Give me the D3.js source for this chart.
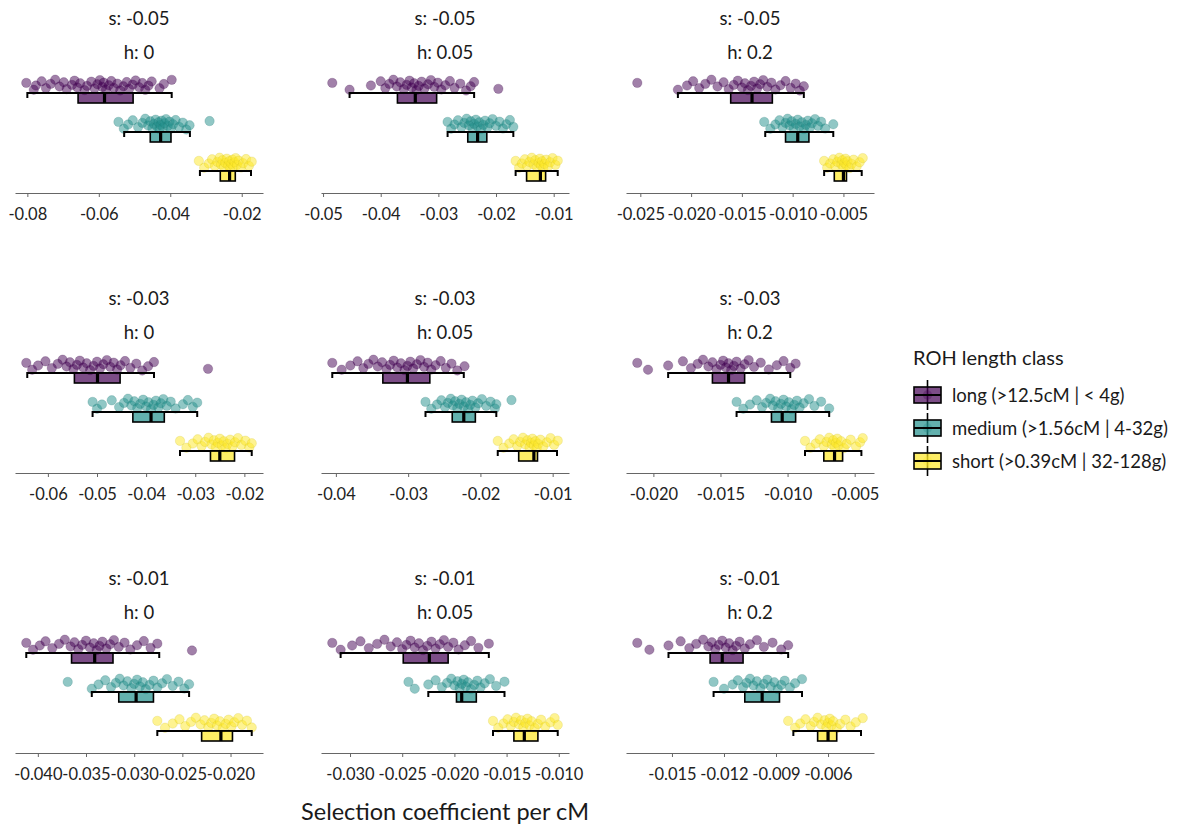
<!DOCTYPE html>
<html>
<head>
<meta charset="utf-8">
<script src="https://cdn.jsdelivr.net/npm/d3@7"></script>
<style>
  body { margin: 0; background: #fff; }
  svg { font-family: Lato, "Open Sans", sans-serif; }
</style>
</head>
<body>
<svg></svg>
<script>
const classes = ["long", "medium", "short"]
const classLabels = ["long (>12.5cM | < 4g)", "medium (>1.56cM | 4-32g)", "short (>0.39cM | 32-128g)"]
const classColors = ["#440154", "#21908C", "#FDE725"]
const sLabels = ["s: -0.05", "s: -0.03", "s: -0.01"]
const hLabels = ["h: 0", "h: 0.05", "h: 0.2"]

// tick labels, one list per panel (row by row)
const panelTicks = [
  ["-0.08", "-0.06", "-0.04", "-0.02"],
  ["-0.05", "-0.04", "-0.03", "-0.02", "-0.01"],
  ["-0.025", "-0.020", "-0.015", "-0.010", "-0.005"],
  ["-0.06", "-0.05", "-0.04", "-0.03", "-0.02"],
  ["-0.04", "-0.03", "-0.02", "-0.01"],
  ["-0.020", "-0.015", "-0.010", "-0.005"],
  ["-0.040", "-0.035", "-0.030", "-0.025", "-0.020"],
  ["-0.030", "-0.025", "-0.020", "-0.015", "-0.010"],
  ["-0.015", "-0.012", "-0.009", "-0.006"]
]

// selection coefficient per replicate, one list per panel
const longPoints = [
  [-0.0803, -0.0782, -0.0776, -0.0760, -0.0748, -0.0735, -0.0722, -0.0710, -0.0698, -0.0690, -0.0675, -0.0668, -0.0660, -0.0652, -0.0640, -0.0633, -0.0621, -0.0612, -0.0604, -0.0597, -0.0590, -0.0586, -0.0580, -0.0572, -0.0565, -0.0558, -0.0548, -0.0540, -0.0531, -0.0522, -0.0515, -0.0505, -0.0497, -0.0487, -0.0478, -0.0470, -0.0461, -0.0452, -0.0430, -0.0418, -0.0396],
  [-0.0484, -0.0454, -0.0417, -0.0400, -0.0392, -0.0385, -0.0378, -0.0372, -0.0366, -0.0360, -0.0355, -0.0350, -0.0346, -0.0342, -0.0338, -0.0334, -0.0329, -0.0324, -0.0318, -0.0313, -0.0307, -0.0301, -0.0295, -0.0288, -0.0280, -0.0272, -0.0262, -0.0252, -0.0244, -0.0238, -0.0196],
  [-0.0253, -0.0213, -0.0204, -0.0198, -0.0192, -0.0186, -0.0180, -0.0174, -0.0168, -0.0163, -0.0158, -0.0154, -0.0150, -0.0147, -0.0144, -0.0141, -0.0138, -0.0135, -0.0132, -0.0129, -0.0125, -0.0121, -0.0117, -0.0112, -0.0107, -0.0102, -0.0097, -0.0093, -0.0089],
  [-0.0644, -0.0632, -0.0620, -0.0605, -0.0592, -0.0580, -0.0570, -0.0562, -0.0555, -0.0548, -0.0541, -0.0535, -0.0528, -0.0521, -0.0514, -0.0507, -0.0500, -0.0494, -0.0487, -0.0480, -0.0473, -0.0466, -0.0459, -0.0452, -0.0443, -0.0432, -0.0420, -0.0408, -0.0396, -0.0384, -0.0274],
  [-0.0405, -0.0392, -0.0380, -0.0370, -0.0362, -0.0355, -0.0348, -0.0342, -0.0336, -0.0330, -0.0325, -0.0320, -0.0315, -0.0310, -0.0305, -0.0301, -0.0297, -0.0293, -0.0288, -0.0283, -0.0278, -0.0273, -0.0268, -0.0262, -0.0255, -0.0248, -0.0240, -0.0232, -0.0222],
  [-0.0212, -0.0204, -0.0189, -0.0178, -0.0172, -0.0167, -0.0163, -0.0159, -0.0156, -0.0153, -0.0150, -0.0148, -0.0146, -0.0144, -0.0142, -0.0140, -0.0138, -0.0135, -0.0132, -0.0129, -0.0125, -0.0120, -0.0114, -0.0108, -0.0103, -0.0098, -0.0094],
  [-0.0412, -0.0405, -0.0398, -0.0392, -0.0385, -0.0378, -0.0372, -0.0366, -0.0362, -0.0358, -0.0354, -0.0350, -0.0346, -0.0342, -0.0339, -0.0336, -0.0333, -0.0329, -0.0325, -0.0321, -0.0316, -0.0310, -0.0304, -0.0297, -0.0290, -0.0283, -0.0276, -0.0240],
  [-0.0317, -0.0309, -0.0298, -0.0290, -0.0282, -0.0274, -0.0267, -0.0261, -0.0255, -0.0250, -0.0246, -0.0242, -0.0238, -0.0234, -0.0230, -0.0226, -0.0222, -0.0218, -0.0214, -0.0210, -0.0206, -0.0201, -0.0196, -0.0190, -0.0184, -0.0177, -0.0167],
  [-0.0170, -0.0163, -0.0152, -0.0145, -0.0140, -0.0136, -0.0132, -0.0129, -0.0127, -0.0125, -0.0123, -0.0121, -0.0119, -0.0117, -0.0115, -0.0113, -0.0111, -0.0108, -0.0105, -0.0101, -0.0097, -0.0092, -0.0087, -0.0083]
]
const mediumPoints = [
  [-0.0545, -0.0530, -0.0518, -0.0505, -0.0490, -0.0478, -0.0470, -0.0462, -0.0456, -0.0450, -0.0446, -0.0441, -0.0437, -0.0433, -0.0430, -0.0427, -0.0424, -0.0420, -0.0416, -0.0412, -0.0407, -0.0402, -0.0398, -0.0392, -0.0385, -0.0375, -0.0365, -0.0355, -0.0346, -0.0290],
  [-0.0284, -0.0278, -0.0272, -0.0266, -0.0260, -0.0255, -0.0251, -0.0247, -0.0244, -0.0241, -0.0238, -0.0235, -0.0232, -0.0229, -0.0226, -0.0222, -0.0219, -0.0215, -0.0211, -0.0206, -0.0200, -0.0194, -0.0188, -0.0182, -0.0176, -0.0170],
  [-0.0128, -0.0122, -0.0117, -0.0113, -0.0110, -0.0107, -0.0105, -0.0103, -0.0101, -0.0099, -0.0097, -0.0095, -0.0093, -0.0091, -0.0089, -0.0087, -0.0085, -0.0083, -0.0081, -0.0078, -0.0075, -0.0072, -0.0068, -0.0060],
  [-0.0509, -0.0500, -0.0490, -0.0470, -0.0455, -0.0445, -0.0437, -0.0430, -0.0424, -0.0418, -0.0412, -0.0406, -0.0400, -0.0395, -0.0390, -0.0385, -0.0380, -0.0375, -0.0370, -0.0365, -0.0358, -0.0350, -0.0340, -0.0325, -0.0315, -0.0305, -0.0296],
  [-0.0276, -0.0268, -0.0260, -0.0254, -0.0249, -0.0245, -0.0241, -0.0238, -0.0235, -0.0232, -0.0229, -0.0226, -0.0223, -0.0220, -0.0217, -0.0214, -0.0211, -0.0207, -0.0203, -0.0198, -0.0192, -0.0186, -0.0180, -0.0178, -0.0157],
  [-0.0138, -0.0133, -0.0128, -0.0123, -0.0119, -0.0116, -0.0113, -0.0111, -0.0109, -0.0107, -0.0105, -0.0103, -0.0101, -0.0099, -0.0097, -0.0095, -0.0093, -0.0091, -0.0088, -0.0084, -0.0080, -0.0075, -0.0069],
  [-0.0369, -0.0344, -0.0337, -0.0330, -0.0324, -0.0319, -0.0315, -0.0311, -0.0307, -0.0303, -0.0300, -0.0297, -0.0294, -0.0291, -0.0288, -0.0284, -0.0280, -0.0276, -0.0271, -0.0266, -0.0260, -0.0254, -0.0248, -0.0243],
  [-0.0244, -0.0238, -0.0225, -0.0218, -0.0212, -0.0207, -0.0203, -0.0200, -0.0197, -0.0195, -0.0193, -0.0191, -0.0189, -0.0187, -0.0184, -0.0181, -0.0178, -0.0175, -0.0171, -0.0166, -0.0160, -0.0152],
  [-0.0126, -0.0120, -0.0115, -0.0112, -0.0109, -0.0107, -0.0105, -0.0103, -0.0101, -0.0099, -0.0097, -0.0095, -0.0093, -0.0091, -0.0089, -0.0087, -0.0085, -0.0082, -0.0079, -0.0075]
]
const shortPoints = [
  [-0.0320, -0.0305, -0.0292, -0.0283, -0.0275, -0.0268, -0.0262, -0.0258, -0.0254, -0.0250, -0.0246, -0.0242, -0.0238, -0.0235, -0.0232, -0.0229, -0.0226, -0.0223, -0.0220, -0.0217, -0.0213, -0.0208, -0.0202, -0.0196, -0.0188, -0.0180, -0.0172],
  [-0.0166, -0.0160, -0.0155, -0.0150, -0.0146, -0.0142, -0.0138, -0.0135, -0.0132, -0.0129, -0.0126, -0.0124, -0.0122, -0.0120, -0.0118, -0.0116, -0.0113, -0.0110, -0.0106, -0.0102, -0.0097, -0.0093],
  [-0.0069, -0.0066, -0.0063, -0.0060, -0.0058, -0.0056, -0.0054, -0.0052, -0.0051, -0.0050, -0.0049, -0.0048, -0.0047, -0.0046, -0.0044, -0.0042, -0.0040, -0.0037, -0.0034, -0.0031],
  [-0.0331, -0.0318, -0.0305, -0.0295, -0.0287, -0.0280, -0.0273, -0.0267, -0.0262, -0.0258, -0.0254, -0.0250, -0.0246, -0.0242, -0.0238, -0.0234, -0.0229, -0.0224, -0.0219, -0.0213, -0.0206, -0.0198, -0.0190, -0.0185],
  [-0.0176, -0.0168, -0.0160, -0.0154, -0.0149, -0.0145, -0.0141, -0.0138, -0.0135, -0.0132, -0.0130, -0.0128, -0.0126, -0.0124, -0.0122, -0.0120, -0.0117, -0.0113, -0.0108, -0.0103, -0.0098, -0.0093],
  [-0.0087, -0.0083, -0.0079, -0.0076, -0.0073, -0.0071, -0.0069, -0.0067, -0.0066, -0.0065, -0.0064, -0.0063, -0.0062, -0.0060, -0.0058, -0.0056, -0.0053, -0.0049, -0.0046, -0.0044],
  [-0.0276, -0.0268, -0.0260, -0.0253, -0.0247, -0.0241, -0.0236, -0.0231, -0.0227, -0.0223, -0.0220, -0.0217, -0.0214, -0.0211, -0.0208, -0.0205, -0.0202, -0.0199, -0.0196, -0.0192, -0.0188, -0.0183, -0.0178],
  [-0.0163, -0.0158, -0.0153, -0.0149, -0.0146, -0.0143, -0.0141, -0.0138, -0.0136, -0.0134, -0.0132, -0.0130, -0.0128, -0.0126, -0.0123, -0.0120, -0.0117, -0.0113, -0.0108, -0.0104, -0.0101],
  [-0.0083, -0.0079, -0.0076, -0.0073, -0.0070, -0.0068, -0.0066, -0.0064, -0.0062, -0.0061, -0.0060, -0.0059, -0.0058, -0.0057, -0.0055, -0.0053, -0.0050, -0.0047, -0.0044, -0.0040]
]

// boxplot stats [lower whisker, q1, median, q3, upper whisker], one per panel
const longBox = [
  [-0.0800, -0.0658, -0.0584, -0.0504, -0.0396],
  [-0.0454, -0.0371, -0.0340, -0.0303, -0.0238],
  [-0.0213, -0.0161, -0.0140, -0.0120, -0.0089],
  [-0.0642, -0.0546, -0.0499, -0.0453, -0.0384],
  [-0.0405, -0.0335, -0.0301, -0.0270, -0.0223],
  [-0.0189, -0.0156, -0.0144, -0.0132, -0.0098],
  [-0.0412, -0.0365, -0.0341, -0.0322, -0.0274],
  [-0.0309, -0.0249, -0.0224, -0.0206, -0.0167],
  [-0.0152, -0.0128, -0.0121, -0.0109, -0.0083]
]
const mediumBox = [
  [-0.0529, -0.0456, -0.0427, -0.0398, -0.0345],
  [-0.0284, -0.0249, -0.0232, -0.0216, -0.0170],
  [-0.0127, -0.0107, -0.0095, -0.0084, -0.0060],
  [-0.0509, -0.0427, -0.0390, -0.0363, -0.0296],
  [-0.0276, -0.0239, -0.0223, -0.0207, -0.0178],
  [-0.0138, -0.0112, -0.0104, -0.0094, -0.0069],
  [-0.0344, -0.0316, -0.0298, -0.0280, -0.0243],
  [-0.0225, -0.0198, -0.0193, -0.0179, -0.0152],
  [-0.0126, -0.0108, -0.0098, -0.0088, -0.0075]
]
const shortBox = [
  [-0.0317, -0.0260, -0.0234, -0.0218, -0.0174],
  [-0.0166, -0.0147, -0.0123, -0.0114, -0.0093],
  [-0.0069, -0.0059, -0.0050, -0.0047, -0.0032],
  [-0.0331, -0.0269, -0.0250, -0.0220, -0.0185],
  [-0.0176, -0.0147, -0.0126, -0.0121, -0.0094],
  [-0.0087, -0.0073, -0.0065, -0.0059, -0.0045],
  [-0.0276, -0.0230, -0.0210, -0.0198, -0.0178],
  [-0.0163, -0.0143, -0.0133, -0.0120, -0.0101],
  [-0.0080, -0.0066, -0.0060, -0.0055, -0.0041]
]

const pointSets = [longPoints, mediumPoints, shortPoints]
const boxSets = [longBox, mediumBox, shortBox]

const width = 1181, height = 826
const panelW = 248, colStep = 305.5, rowStep = 280, axisY = 193
const boxH = 10, capH = 5, ptR = 4.7

const color = d3.scaleOrdinal().domain(classes).range(classColors)

const svg = d3.select("svg")
  .attr("width", width)
  .attr("height", height)

const panels = d3.range(9).map(p => ({p, row: Math.floor(p / 3), col: p % 3}))

panels.forEach(({p, row, col}) => {

  const g = svg.append("g")
    .attr("transform", `translate(${15 + Math.round(col * colStep)},${row * rowStep})`)

  const groups = classes.map((k, ci) => ({cls: k, pts: pointSets[ci][p], box: boxSets[ci][p]}))
  const ext = d3.extent(groups.flatMap(d => d.pts.concat([d.box[0], d.box[4]])))
  const pad = (ext[1] - ext[0]) * 0.05

  const x = d3.scaleLinear().domain([ext[0] - pad, ext[1] + pad]).range([0, panelW])
  const y = d3.scalePoint().domain(classes).range([axisY - 100, axisY - 22])

  // strip titles
  g.append("text")
    .attr("x", panelW / 2).attr("y", 25)
    .attr("text-anchor", "middle")
    .style("font-size", "18.5px").style("fill", "#1a1a1a")
    .text(sLabels[row])
  g.append("text")
    .attr("x", panelW / 2).attr("y", 59)
    .attr("text-anchor", "middle")
    .style("font-size", "18.5px").style("fill", "#1a1a1a")
    .text(hLabels[col])

  // jittered points (deterministic vertical jitter)
  groups.forEach(grp => {
    g.append("g").selectAll("circle")
      .data(grp.pts)
      .join("circle")
      .attr("cx", d => x(d))
      .attr("cy", (d, i) => y(grp.cls) - 8 + (((i * 0.618034 + 0.31) % 1) - 0.5) * 11)
      .attr("r", ptR)
      .style("fill", color(grp.cls))
      .style("fill-opacity", 0.5)
      .style("stroke", d3.color(color(grp.cls)).darker(0.6))
      .style("stroke-opacity", 0.35)
      .style("stroke-width", 0.6)
  })

  // boxplots
  groups.forEach(grp => {
    const [lo, q1, med, q3, hi] = grp.box
    const yy = y(grp.cls)
    const bg = g.append("g")
    bg.append("line")
      .attr("x1", x(lo)).attr("x2", x(hi)).attr("y1", yy).attr("y2", yy)
      .style("stroke", "#000").style("stroke-width", 2)
    bg.selectAll("line.cap")
      .data([lo, hi])
      .join("line").classed("cap", true)
      .attr("x1", d => x(d)).attr("x2", d => x(d))
      .attr("y1", yy - 1).attr("y2", yy + capH)
      .style("stroke", "#000").style("stroke-width", 2)
    bg.append("rect")
      .attr("x", x(q1)).attr("y", yy)
      .attr("width", x(q3) - x(q1)).attr("height", boxH)
      .style("fill", color(grp.cls)).style("fill-opacity", 0.7)
      .style("stroke", "#000").style("stroke-width", 1.6)
    bg.append("line")
      .attr("x1", x(med)).attr("x2", x(med)).attr("y1", yy).attr("y2", yy + boxH)
      .style("stroke", "#000").style("stroke-width", 3.2)
  })

  // axis
  const tickVals = panelTicks[p].map(Number)
  const ax = g.append("g")
    .attr("transform", `translate(0,${axisY})`)
    .call(d3.axisBottom(x)
      .tickValues(tickVals)
      .tickFormat((d, i) => panelTicks[p][i])
      .tickSize(4)
      .tickSizeOuter(0)
      .tickPadding(11))
  ax.select(".domain").style("stroke", "#666").style("stroke-width", 1)
  ax.selectAll(".tick line").style("stroke", "#666")
  ax.selectAll(".tick text")
    .style("font-family", "Lato, sans-serif")
    .style("font-size", "16.5px").style("fill", "#222")
})

// x axis title
svg.append("text")
  .attr("x", 445).attr("y", 820)
  .attr("text-anchor", "middle")
  .style("font-size", "23.5px").style("fill", "#1a1a1a")
  .text("Selection coefficient per cM")

// legend
const legend = svg.append("g").attr("transform", "translate(913,0)")
legend.append("text")
  .attr("x", 0).attr("y", 365)
  .style("font-size", "20px").style("fill", "#1a1a1a")
  .text("ROH length class")

const ly = d3.scalePoint().domain(classes).range([395, 461])
const key = legend.selectAll("g.key")
  .data(classes)
  .join("g").classed("key", true)
  .attr("transform", d => `translate(0,${ly(d)})`)
key.append("line")
  .attr("x1", 14.5).attr("x2", 14.5).attr("y1", -15).attr("y2", 15)
  .style("stroke", "#000").style("stroke-width", 1.6)
key.append("rect")
  .attr("x", 1).attr("y", -8).attr("width", 27).attr("height", 16)
  .style("fill", d => color(d)).style("fill-opacity", 0.7)
  .style("stroke", "#000").style("stroke-width", 1.6)
key.append("circle")
  .attr("cx", 14.5).attr("cy", 0).attr("r", ptR)
  .style("fill", d => color(d)).style("fill-opacity", 0.3)
key.append("line")
  .attr("x1", 1).attr("x2", 28).attr("y1", 0).attr("y2", 0)
  .style("stroke", "#000").style("stroke-width", 2)
key.append("text")
  .attr("x", 39).attr("y", 0).attr("dy", "0.36em")
  .style("font-size", "18.5px").style("fill", "#1a1a1a")
  .text((d, i) => classLabels[i])
</script>
</body>
</html>
